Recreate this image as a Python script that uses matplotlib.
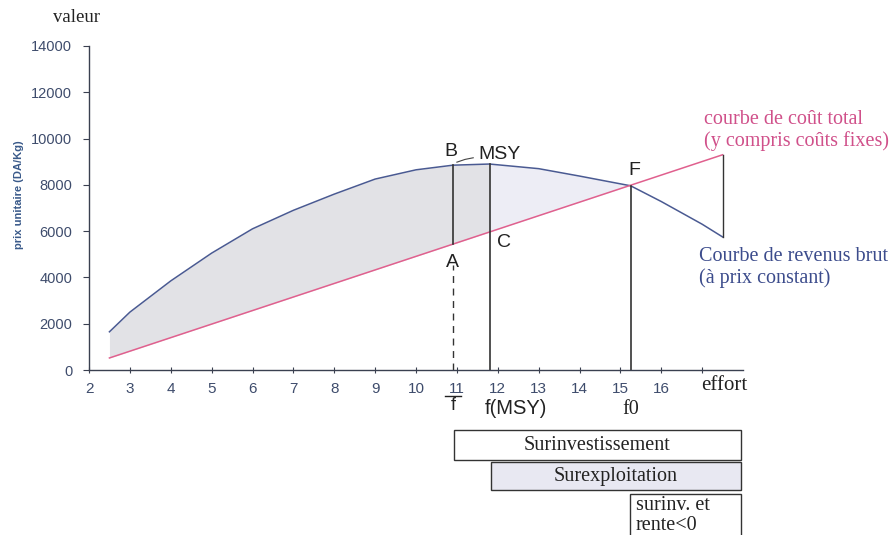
import numpy as np
import matplotlib
matplotlib.use("Agg")
import matplotlib.pyplot as plt
from matplotlib.transforms import blended_transform_factory
from matplotlib.patches import Rectangle

# effort vs gross revenue
effort = [2.5, 3, 4, 5, 6, 7, 8, 9, 10, 10.9, 11.8, 13, 14, 15.25, 16, 17, 17.5]
revenue = [1650, 2500, 3850, 5050, 6100, 6900, 7600, 8250, 8650, 8850, 8900,
           8700, 8380, 7960, 7280, 6300, 5750]

# total cost line (linear)
cost_effort = [2.5, 17.5]
cost_value = [520, 9300]

# key efforts
f_bar = 10.9
f_msy = 11.8
f_zero = 15.25

x_ticks = list(range(2, 18))
x_labels = [str(v) for v in range(2, 17)] + [""]
y_ticks = list(range(0, 14001, 2000))

BLUE = "#4a5a92"
PINK = "#e0608e"
TICK = "#3e4c6c"

plt.rcParams['font.family'] = ['Liberation Sans', 'DejaVu Sans']

fig = plt.figure(figsize=(8.94, 5.35), dpi=100)
ax = fig.add_axes([89 / 894, 1 - 370 / 535, (743 - 89) / 894, (370 - 46) / 535])
ax.set_xlim(2, 18)
ax.set_ylim(0, 14000)

x = np.array(effort)
rev = np.array(revenue)
cst = np.interp(x, cost_effort, cost_value)

# shaded rent areas
m1 = x <= f_msy
ax.fill_between(x[m1], cst[m1], rev[m1], color="#e2e2e6", lw=0)
m2 = (x >= f_msy) & (x <= f_zero)
ax.fill_between(x[m2], cst[m2], rev[m2], color="#ededf5", lw=0)

ax.plot(effort, revenue, color=BLUE, lw=1.1)
ax.plot(cost_effort, cost_value, color=PINK, lw=1.1)

# vertical lines
rev_at = lambda e: np.interp(e, effort, revenue)
cost_at = lambda e: np.interp(e, cost_effort, cost_value)
ax.plot([f_bar, f_bar], [cost_at(f_bar), rev_at(f_bar)], color="#333333", lw=1.2)
ax.plot([f_bar, f_bar], [0, cost_at(f_bar) - 900], color="#333333", lw=1.0, ls=(0, (5, 4)))
ax.plot([f_msy, f_msy], [0, rev_at(f_msy)], color="#333333", lw=1.2)
ax.plot([f_zero, f_zero], [0, rev_at(f_zero)], color="#333333", lw=1.2)
ax.plot([cost_effort[-1]] * 2, [revenue[-1], cost_value[-1]], color="#333333", lw=1.0)

# point labels
lab = dict(fontsize=14, color="#222222", ha="center", va="center")
ax.text(10.85, 9420, "B", **lab)
ax.text(12.05, 9300, "MSY", **lab)
ax.plot([11.0, 11.2, 11.4], [8980, 9100, 9170], color="#444444", lw=0.8)
ax.text(10.9, 4650, "A", **lab)
ax.text(12.15, 5530, "C", **lab)
ax.text(15.35, 8600, "F", **lab)

# axes styling
for s in ["top", "right"]:
    ax.spines[s].set_visible(False)
for s in ["left", "bottom"]:
    ax.spines[s].set_color("#3a4050")
    ax.spines[s].set_linewidth(1.0)
ax.set_xticks(x_ticks)
ax.set_xticklabels(x_labels)
ax.set_yticks(y_ticks)
ax.tick_params(axis="both", colors="#3a4050", labelcolor=TICK)
ax.tick_params(axis="x", direction="inout", length=5, pad=6, labelsize=11)
ax.tick_params(axis="y", direction="out", length=4, pad=8, labelsize=10.5)

serif = ['Liberation Serif', 'DejaVu Serif']
bt = blended_transform_factory(ax.transData, fig.transFigure)
ax.text(17.55, 1 - 386 / 535, "effort", transform=bt, fontsize=15, family=serif,
        ha="center", va="center", color="#222222")
ax.plot([10.72, 11.1], [1 - 396 / 535] * 2, transform=bt, color="#222222",
        lw=1.0, clip_on=False)
ax.text(10.9, 1 - 406 / 535, "f", transform=bt, fontsize=13, ha="center",
        va="center", color="#222222")
ax.text(12.45, 1 - 408 / 535, "f(MSY)", transform=bt, fontsize=14.5, ha="center",
        va="center", color="#222222")
ax.text(15.25, 1 - 409 / 535, "f0", transform=bt, fontsize=14.5, family=serif,
        ha="center", va="center", color="#222222")

# curve annotations
ax.text(17.05, 10350, "courbe de coût total\n(y compris coûts fixes)", fontsize=14.5,
        family=serif, color="#d0508a", ha="left", va="center", linespacing=1.2,
        clip_on=False)
ax.text(16.92, 4430, "Courbe de revenus brut\n(à prix constant)", fontsize=14.5,
        family=serif, color="#3c4c8c", ha="left", va="center", linespacing=1.2,
        clip_on=False)

# titles
fig.text(53 / 894, 1 - 18 / 535, "valeur", fontsize=13.5, family=serif, ha="left",
         va="center", color="#222222")
fig.text(19 / 894, 1 - 195 / 535, "prix unitaire (DA/Kg)", fontsize=8,
         fontweight="bold", rotation=90, ha="center", va="center", color="#3a5a8a")

# bottom boxes
boxes = [
    (10.93, 17.94, 430, 460, "white", "Surinvestissement"),
    (11.83, 17.94, 462, 490, "#e8e8f2", "Surexploitation"),
]
for x0, x1, ytop, ybot, fc, txt in boxes:
    y0 = 1 - ybot / 535
    h = (ybot - ytop) / 535
    ax.add_patch(Rectangle((x0, y0), x1 - x0, h, transform=bt, facecolor=fc,
                           edgecolor="#333333", lw=1.0, clip_on=False))
    ax.text((x0 + x1) / 2, y0 + h / 2, txt, transform=bt, fontsize=14.5,
            family=serif, ha="center", va="center", color="#222222")

ax.add_patch(Rectangle((15.23, -0.02), 17.94 - 15.23, 1 - 494 / 535 + 0.02,
                       transform=bt, facecolor="white", edgecolor="#333333",
                       lw=1.0, clip_on=False))
ax.text(15.38, 1 - 496 / 535, "surinv. et\nrente<0", transform=bt, fontsize=14.5,
        family=serif, ha="left", va="top", color="#222222", linespacing=1.05)

fig.savefig("out.png", dpi=100)
